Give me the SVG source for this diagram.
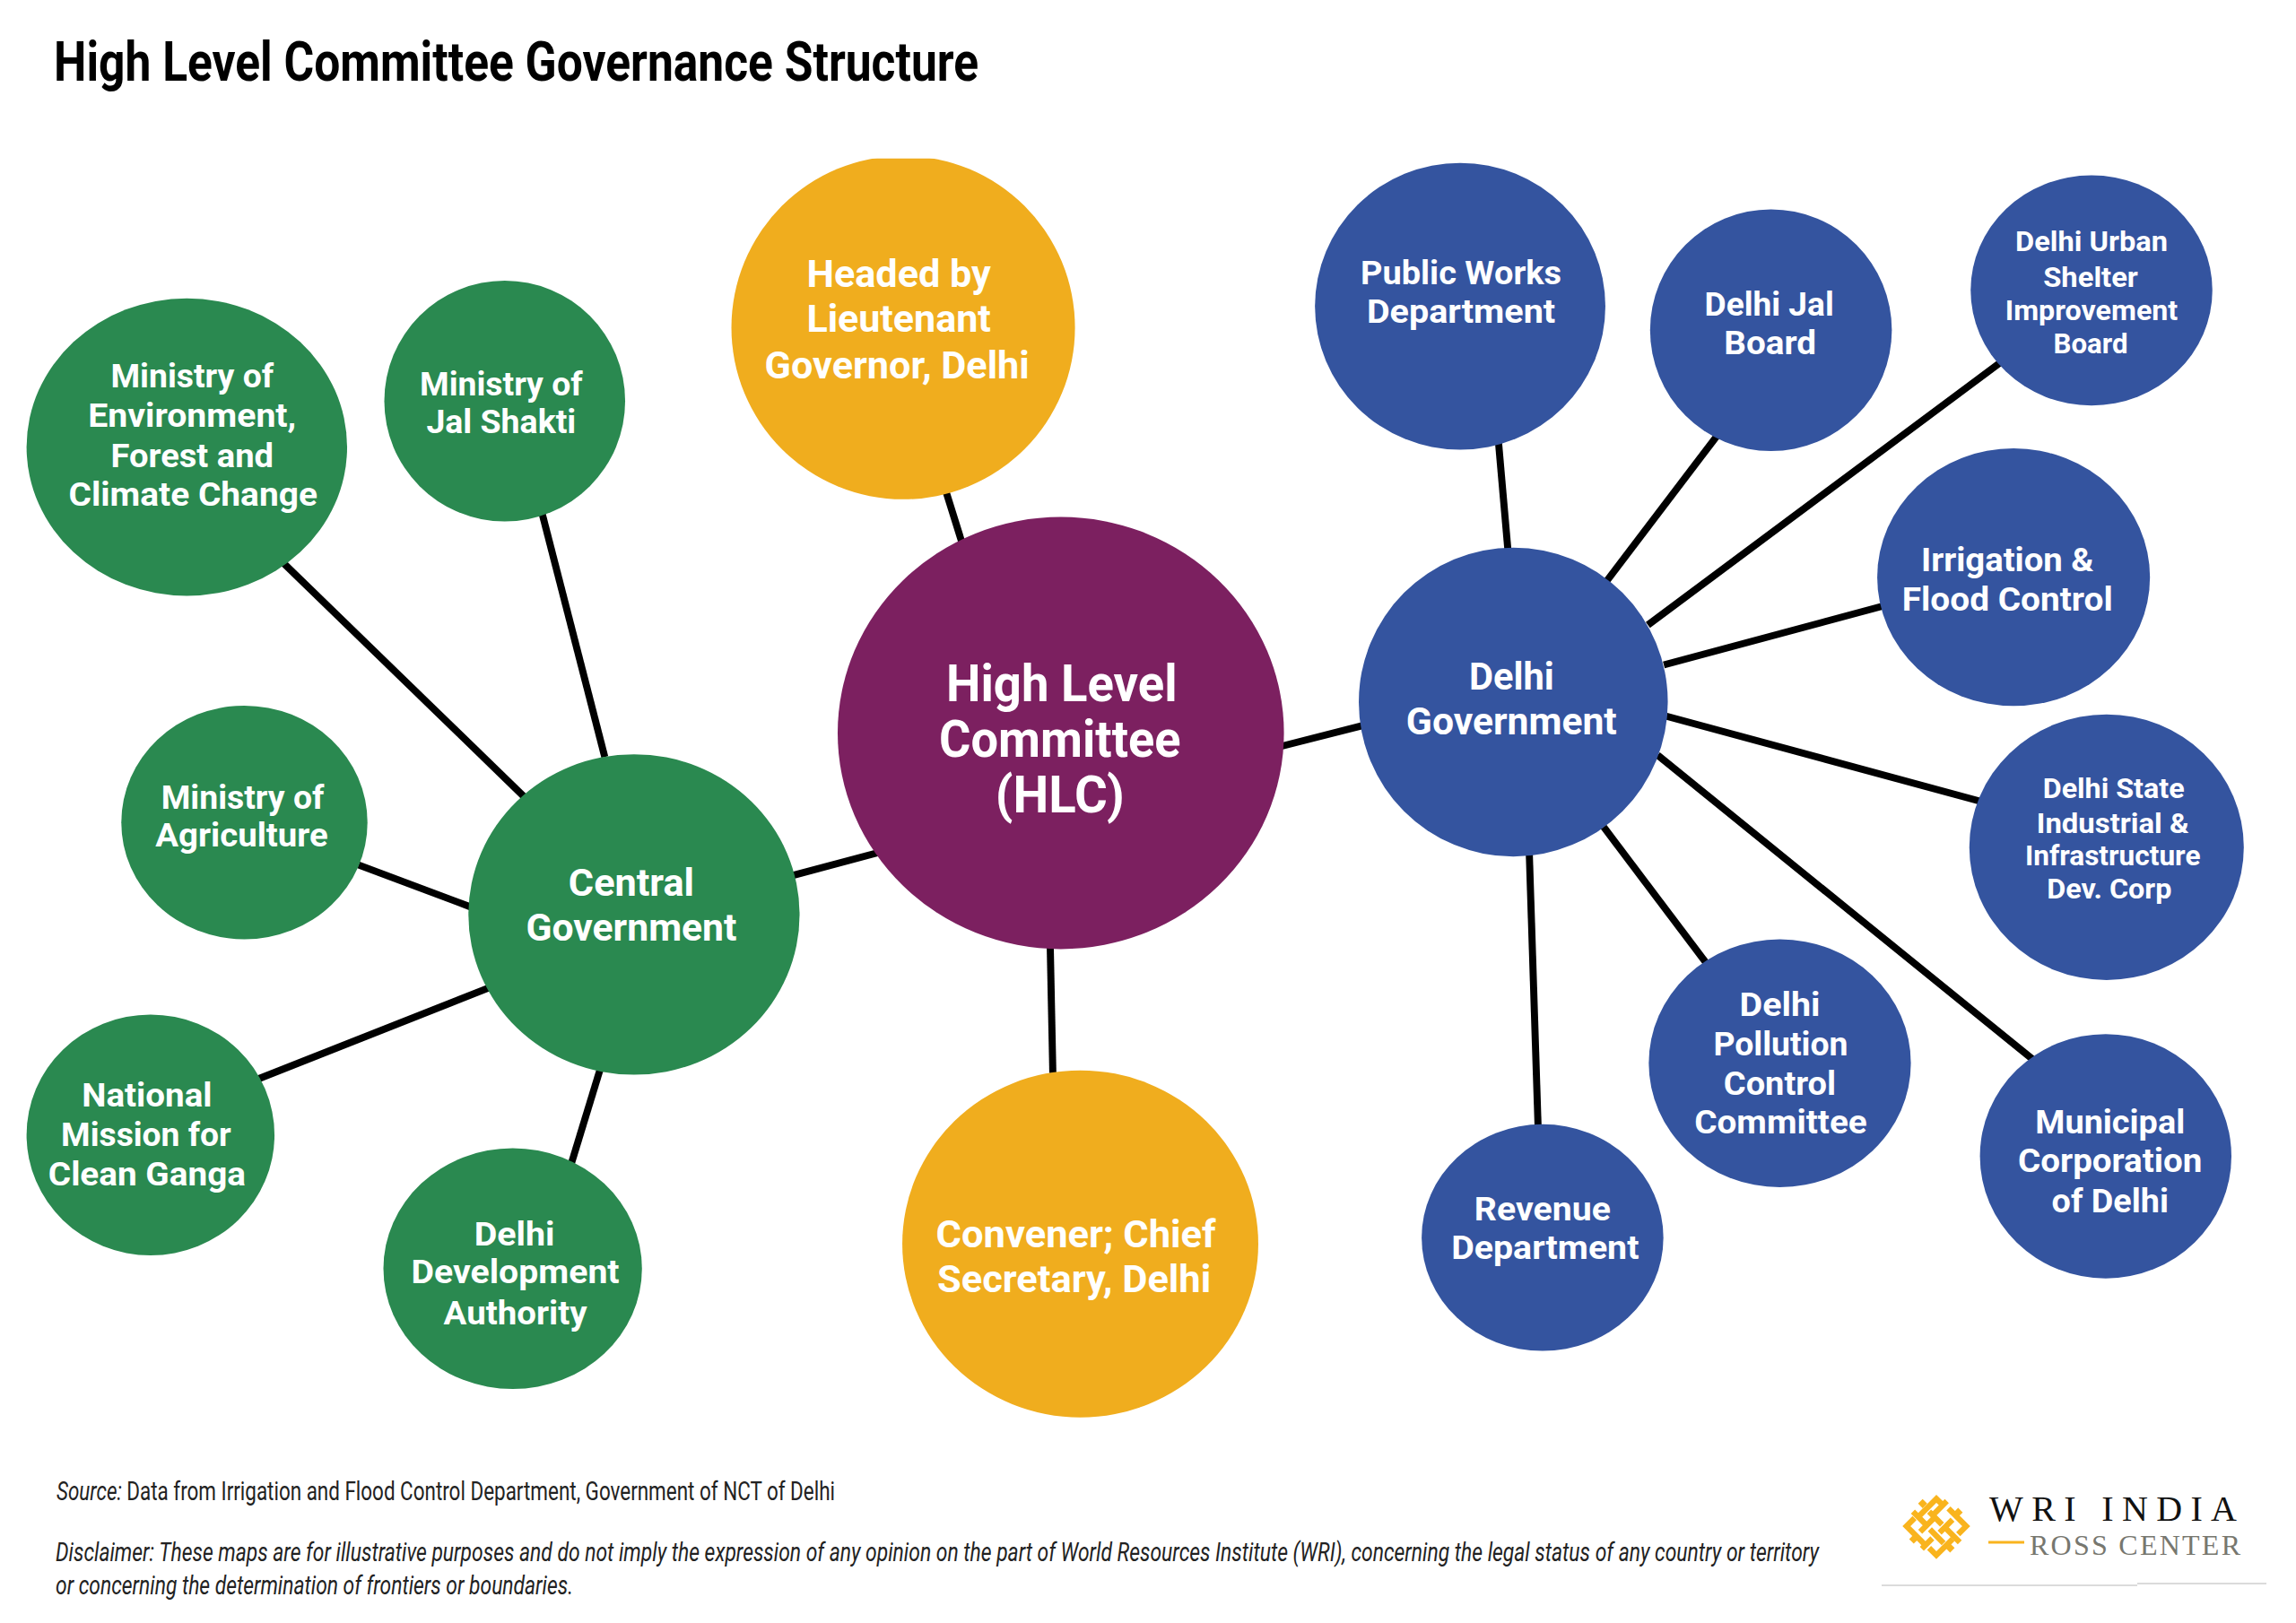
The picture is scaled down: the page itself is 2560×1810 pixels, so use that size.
<svg xmlns="http://www.w3.org/2000/svg" width="2560" height="1810" viewBox="0 0 2560 1810">
<style>
.g{fill:#2A8950}.y{fill:#F0AD1E}.b{fill:#34549F}.p{fill:#7C2060}
text{font-family:Roboto,"Liberation Sans",sans-serif}
.t{fill:#fff;font-weight:700;font-size:38px;text-anchor:middle}
.m{font-size:43px}.l{font-size:58px}.s{font-size:31px}
.title{font-size:62px;font-weight:700;fill:#000}
.f{font-size:29px;fill:#222;font-weight:400}
.c line{stroke:#000;stroke-width:8}
.w{stroke:#F9B41E;stroke-width:7;fill:none}
.sq{fill:#F9B41E}
.lg{font-family:"Liberation Serif",serif}
</style>
<defs><clipPath id="top"><rect x="0" y="179" width="2560" height="500"/></clipPath></defs>
<rect width="2560" height="1810" fill="#fff"/>
<text class="title" x="60" y="90" textLength="1031" lengthAdjust="spacingAndGlyphs">High Level Committee Governance Structure</text>
<g transform="scale(0.9873)">
<g class="c" id="connectors">
<line x1="319" y1="635" x2="592" y2="900"/>
<line x1="612" y1="579" x2="683" y2="855"/>
<line x1="405" y1="977" x2="533" y2="1025"/>
<line x1="291" y1="1219" x2="554" y2="1115"/>
<line x1="645" y1="1315" x2="678" y2="1207"/>
<line x1="895" y1="989" x2="996" y2="962"/>
<line x1="1068" y1="554" x2="1087" y2="615"/>
<line x1="1186" y1="1067" x2="1189" y2="1212"/>
<line x1="1447" y1="843" x2="1541" y2="819"/>
<line x1="1692" y1="496" x2="1703" y2="622"/>
<line x1="1940" y1="491" x2="1814" y2="657"/>
<line x1="2261" y1="408" x2="1861" y2="706"/>
<line x1="2125" y1="685" x2="1879" y2="751"/>
<line x1="2236" y1="905" x2="1882" y2="809"/>
<line x1="2295" y1="1196" x2="1872" y2="853"/>
<line x1="1927" y1="1088" x2="1811" y2="934"/>
<line x1="1737" y1="1273" x2="1727" y2="962"/>
</g>
<g id="env"><ellipse class="g" cx="211" cy="505" rx="181" ry="168"/><text class="t" x="217" y="438" textLength="184" lengthAdjust="spacingAndGlyphs">Ministry of</text><text class="t" x="217" y="482" textLength="235" lengthAdjust="spacingAndGlyphs">Environment,</text><text class="t" x="217" y="528" textLength="184" lengthAdjust="spacingAndGlyphs">Forest and</text><text class="t" x="218" y="571" textLength="281" lengthAdjust="spacingAndGlyphs">Climate Change</text></g>
<g id="jal"><ellipse class="g" cx="570" cy="453" rx="136" ry="136"/><text class="t" x="566" y="447" textLength="184" lengthAdjust="spacingAndGlyphs">Ministry of</text><text class="t" x="566" y="489" textLength="169" lengthAdjust="spacingAndGlyphs">Jal Shakti</text></g>
<g id="agri"><ellipse class="g" cx="276" cy="929" rx="139" ry="132"/><text class="t" x="274" y="914" textLength="184" lengthAdjust="spacingAndGlyphs">Ministry of</text><text class="t" x="273" y="956" textLength="195" lengthAdjust="spacingAndGlyphs">Agriculture</text></g>
<g id="nmcg"><ellipse class="g" cx="170" cy="1282" rx="140" ry="136"/><text class="t" x="166" y="1250" textLength="147" lengthAdjust="spacingAndGlyphs">National</text><text class="t" x="165" y="1294" textLength="192" lengthAdjust="spacingAndGlyphs">Mission for</text><text class="t" x="166" y="1339" textLength="223" lengthAdjust="spacingAndGlyphs">Clean Ganga</text></g>
<g id="dda"><ellipse class="g" cx="579" cy="1433" rx="146" ry="136"/><text class="t" x="581" y="1407" textLength="91" lengthAdjust="spacingAndGlyphs">Delhi</text><text class="t" x="582" y="1449" textLength="235" lengthAdjust="spacingAndGlyphs">Development</text><text class="t" x="582" y="1496" textLength="162" lengthAdjust="spacingAndGlyphs">Authority</text></g>
<g id="central"><ellipse class="g" cx="716" cy="1033" rx="187" ry="181"/><text class="t m" x="713" y="1012" textLength="142" lengthAdjust="spacingAndGlyphs">Central</text><text class="t m" x="713" y="1063" textLength="238" lengthAdjust="spacingAndGlyphs">Government</text></g>
<g id="hlc"><ellipse class="p" cx="1198" cy="828" rx="252" ry="244"/><text class="t l" x="1199" y="792" textLength="261" lengthAdjust="spacingAndGlyphs">High Level</text><text class="t l" x="1197" y="855" textLength="273" lengthAdjust="spacingAndGlyphs">Committee</text><text class="t l" x="1197" y="918" textLength="146" lengthAdjust="spacingAndGlyphs">(HLC)</text></g>
<g id="headed"><ellipse class="y" cx="1020" cy="370" rx="194" ry="194" clip-path="url(#top)"/><text class="t m" x="1015" y="324" textLength="208" lengthAdjust="spacingAndGlyphs">Headed by</text><text class="t m" x="1015" y="375" textLength="208" lengthAdjust="spacingAndGlyphs">Lieutenant</text><text class="t m" x="1013" y="427" textLength="299" lengthAdjust="spacingAndGlyphs">Governor, Delhi</text></g>
<g id="convener"><ellipse class="y" cx="1220" cy="1405" rx="201" ry="196"/><text class="t m" x="1215" y="1409" textLength="316" lengthAdjust="spacingAndGlyphs">Convener; Chief</text><text class="t m" x="1213" y="1460" textLength="309" lengthAdjust="spacingAndGlyphs">Secretary, Delhi</text></g>
<g id="delhigov"><ellipse class="b" cx="1709" cy="793" rx="174.500" ry="174.500"/><text class="t m" x="1707" y="779" textLength="96" lengthAdjust="spacingAndGlyphs">Delhi</text><text class="t m" x="1707" y="830" textLength="238" lengthAdjust="spacingAndGlyphs">Government</text></g>
<g id="pwd"><ellipse class="b" cx="1649" cy="346" rx="164" ry="162"/><text class="t" x="1650" y="321" textLength="227" lengthAdjust="spacingAndGlyphs">Public Works</text><text class="t" x="1650" y="365" textLength="213" lengthAdjust="spacingAndGlyphs">Department</text></g>
<g id="djb"><ellipse class="b" cx="2000" cy="373" rx="136.500" ry="136.500"/><text class="t" x="1998" y="357" textLength="146" lengthAdjust="spacingAndGlyphs">Delhi Jal</text><text class="t" x="1999" y="400" textLength="104" lengthAdjust="spacingAndGlyphs">Board</text></g>
<g id="dusib"><ellipse class="b" cx="2362" cy="328" rx="136.500" ry="130"/><text class="t s" x="2362" y="284" textLength="172" lengthAdjust="spacingAndGlyphs">Delhi Urban</text><text class="t s" x="2361" y="324" textLength="107" lengthAdjust="spacingAndGlyphs">Shelter</text><text class="t s" x="2362" y="362" textLength="195" lengthAdjust="spacingAndGlyphs">Improvement</text><text class="t s" x="2361" y="399" textLength="84" lengthAdjust="spacingAndGlyphs">Board</text></g>
<g id="ifc"><ellipse class="b" cx="2274" cy="652" rx="154" ry="145.500"/><text class="t" x="2267" y="645" textLength="195" lengthAdjust="spacingAndGlyphs">Irrigation &amp;</text><text class="t" x="2267" y="690" textLength="238" lengthAdjust="spacingAndGlyphs">Flood Control</text></g>
<g id="dsiidc"><ellipse class="b" cx="2379" cy="957" rx="155" ry="150"/><text class="t s" x="2387" y="901" textLength="160" lengthAdjust="spacingAndGlyphs">Delhi State</text><text class="t s" x="2386" y="941" textLength="172" lengthAdjust="spacingAndGlyphs">Industrial &amp;</text><text class="t s" x="2386" y="977" textLength="198" lengthAdjust="spacingAndGlyphs">Infrastructure</text><text class="t s" x="2382" y="1015" textLength="141" lengthAdjust="spacingAndGlyphs">Dev. Corp</text></g>
<g id="mcd"><ellipse class="b" cx="2378" cy="1306" rx="142" ry="138"/><text class="t" x="2383" y="1280" textLength="169" lengthAdjust="spacingAndGlyphs">Municipal</text><text class="t" x="2383" y="1324" textLength="208" lengthAdjust="spacingAndGlyphs">Corporation</text><text class="t" x="2383" y="1369" textLength="132" lengthAdjust="spacingAndGlyphs">of Delhi</text></g>
<g id="dpcc"><ellipse class="b" cx="2010" cy="1201" rx="148" ry="140"/><text class="t" x="2010" y="1148" textLength="91" lengthAdjust="spacingAndGlyphs">Delhi</text><text class="t" x="2011" y="1192" textLength="152" lengthAdjust="spacingAndGlyphs">Pollution</text><text class="t" x="2010" y="1237" textLength="127" lengthAdjust="spacingAndGlyphs">Control</text><text class="t" x="2011" y="1280" textLength="195" lengthAdjust="spacingAndGlyphs">Committee</text></g>
<g id="revenue"><ellipse class="b" cx="1742" cy="1398" rx="136.500" ry="128"/><text class="t" x="1742" y="1379" textLength="154" lengthAdjust="spacingAndGlyphs">Revenue</text><text class="t" x="1745" y="1422" textLength="212" lengthAdjust="spacingAndGlyphs">Department</text></g>
</g>
<text class="f" x="63" y="1673" textLength="868" lengthAdjust="spacingAndGlyphs"><tspan font-style="italic">Source: </tspan>Data from Irrigation and Flood Control Department, Government of NCT of Delhi</text>
<text class="f" font-style="italic" x="62" y="1741" textLength="1966" lengthAdjust="spacingAndGlyphs">Disclaimer: These maps are for illustrative purposes and do not imply the expression of any opinion on the part of World Resources Institute (WRI), concerning the legal status of any country or territory</text>
<text class="f" font-style="italic" x="62" y="1778" textLength="577" lengthAdjust="spacingAndGlyphs">or concerning the determination of frontiers or boundaries.</text>
<g id="logo">
<g transform="translate(2159 1702) scale(0.9)">
<path class="w" d="M-20 -14L0 -34L8 -26M-3 -15L13 -31M-20 7L-4 -9M4 8L20 -8M-18 28L-5 15M-9 27L0 36L20 16M-27 -10L-37 0L-14 23M15 -22L37 0L27 10M-29 -18L-14 -3M-9 -18L7 -2M-8 4L9 21M13 4L29 20"/>
<g class="sq"><rect x="-21" y="-32" width="8" height="8" transform="rotate(45 -17 -28)"/><rect x="23" y="-21" width="8" height="8" transform="rotate(45 27 -17)"/><rect x="-32" y="12" width="8" height="8" transform="rotate(45 -28 16)"/><rect x="13" y="23" width="8" height="8" transform="rotate(45 17 27)"/></g>
</g>
<text class="lg" x="2218" y="1696" font-size="40" fill="#111" textLength="276">WRI INDIA</text>
<line x1="2217" y1="1720" x2="2257" y2="1720" stroke="#F9B41E" stroke-width="3"/>
<text class="lg" x="2263" y="1734" font-size="32" fill="#77776F" textLength="235">ROSS CENTER</text>
<path d="M2098 1768H2383M2383 1766H2527" stroke="#d0d0d0" stroke-width="1.500" fill="none"/>
</g>
</svg>
